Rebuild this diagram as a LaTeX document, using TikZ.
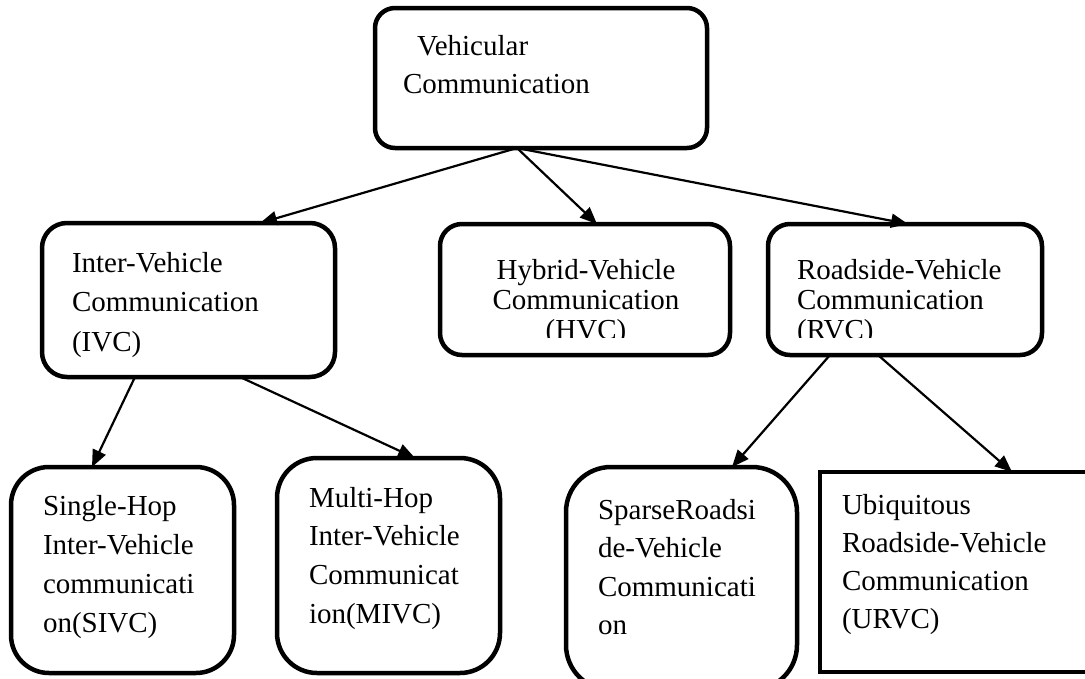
\documentclass[tikz,border=0pt]{standalone}
\usepackage{fontspec}
\setmainfont{Liberation Serif}
\usetikzlibrary{arrows.meta,calc}
% stacked lines whose baseline is the baseline of the first line
\newcommand\boxlines[2]{\begin{tabular}[t]{@{}#1@{}}#2\end{tabular}}

\begin{document}
\begin{tikzpicture}[x=1pt,y=-1pt,
  box/.style={draw, line width=4.5pt, anchor=north west, inner sep=0pt, outer sep=0pt},
  txt/.style={inner sep=0pt, outer sep=0pt, anchor=base west,
               font=\fontsize{29}{#1}\selectfont},
  txt/.default=38.5,
  link/.style={line width=2.2pt, -{Triangle[length=17pt,width=14pt]}},
]
\useasboundingbox (0,0) rectangle (1085,678);

% ---- boxes ----
\node[box, rounded corners=20pt, minimum width=332pt, minimum height=140pt] (veh) at (375,8) {};
\node[box, rounded corners=25pt, minimum width=293pt, minimum height=154pt] (ivc) at (42,223) {};
\node[box, rounded corners=22pt, minimum width=290pt, minimum height=131pt] (hvc) at (440,224) {};
\node[box, rounded corners=22pt, minimum width=274pt, minimum height=131pt] (rvc) at (768,224) {};
\node[box, rounded corners=38pt, minimum width=223pt, minimum height=206pt] (sivc) at (11,467) {};
\node[box, rounded corners=40pt, minimum width=223pt, minimum height=215pt] (mivc) at (277,458) {};
\node[box, rounded corners=45pt, minimum width=231pt, minimum height=223pt] (srvc) at (566,467) {};
\node[box, minimum width=280pt, minimum height=200pt] (urvc) at (820,472) {};

% ---- labels ----
\node[txt] (vehT) at ($(veh.north west)+(28,47)$)
  {\boxlines{l}{\hspace*{14pt}Vehicular\\Communication}};
\node[txt=39.5] (ivcT) at ($(ivc.north west)+(30,49)$)
  {\boxlines{l}{Inter-Vehicle\\Communication\\(IVC)}};
\begin{scope}
  \clip (hvc.north west) rectangle ($(hvc.north east)+(0,113)$);
  \node[txt=30, anchor=base] (hvcT) at ($(hvc.north west)+(146,55)$)
    {\boxlines{c}{Hybrid-Vehicle\\Communication\\(HVC)}};
\end{scope}
\begin{scope}
  \clip (rvc.north west) rectangle ($(rvc.north east)+(0,113)$);
  \node[txt=30] (rvcT) at ($(rvc.north west)+(29,55)$)
    {\boxlines{l}{Roadside-Vehicle\\Communication\\(RVC)}};
\end{scope}
\node[txt=39.3] (sivcT) at ($(sivc.north west)+(32,48)$)
  {\boxlines{l}{Single-Hop\\Inter-Vehicle\\communicati\\on(SIVC)}};
\node[txt=38.7] (mivcT) at ($(mivc.north west)+(32,49)$)
  {\boxlines{l}{Multi-Hop\\Inter-Vehicle\\Communicat\\ion(MIVC)}};
\node[txt=38.5] (srvcT) at ($(srvc.north west)+(32,52)$)
  {\boxlines{l}{SparseRoadsi\\de-Vehicle\\Communicati\\on}};
\node[txt=38] (urvcT) at ($(urvc.north west)+(22,42)$)
  {\boxlines{l}{Ubiquitous\\Roadside-Vehicle\\Communication\\(URVC)}};

% ---- connectors ----
\draw[link] ($(veh.south west)+(142,0)$) -- ($(ivc.north west)+(218,0)$);
\draw[link] ($(veh.south west)+(142,0)$) -- ($(hvc.north west)+(157,0)$);
\draw[link] ($(veh.south west)+(142,0)$) -- ($(rvc.north west)+(140,0)$);
\draw[link] ($(ivc.south west)+(93,0)$) -- ($(sivc.north west)+(81,0)$);
\draw[link] ($(ivc.south west)+(198,0)$) -- ($(mivc.north west)+(138,0)$);
\draw[link] ($(rvc.south west)+(62,0)$) -- ($(srvc.north west)+(166,0)$);
\draw[link] ($(rvc.south west)+(110,0)$) -- ($(urvc.north west)+(192,0)$);
\end{tikzpicture}
\end{document}
